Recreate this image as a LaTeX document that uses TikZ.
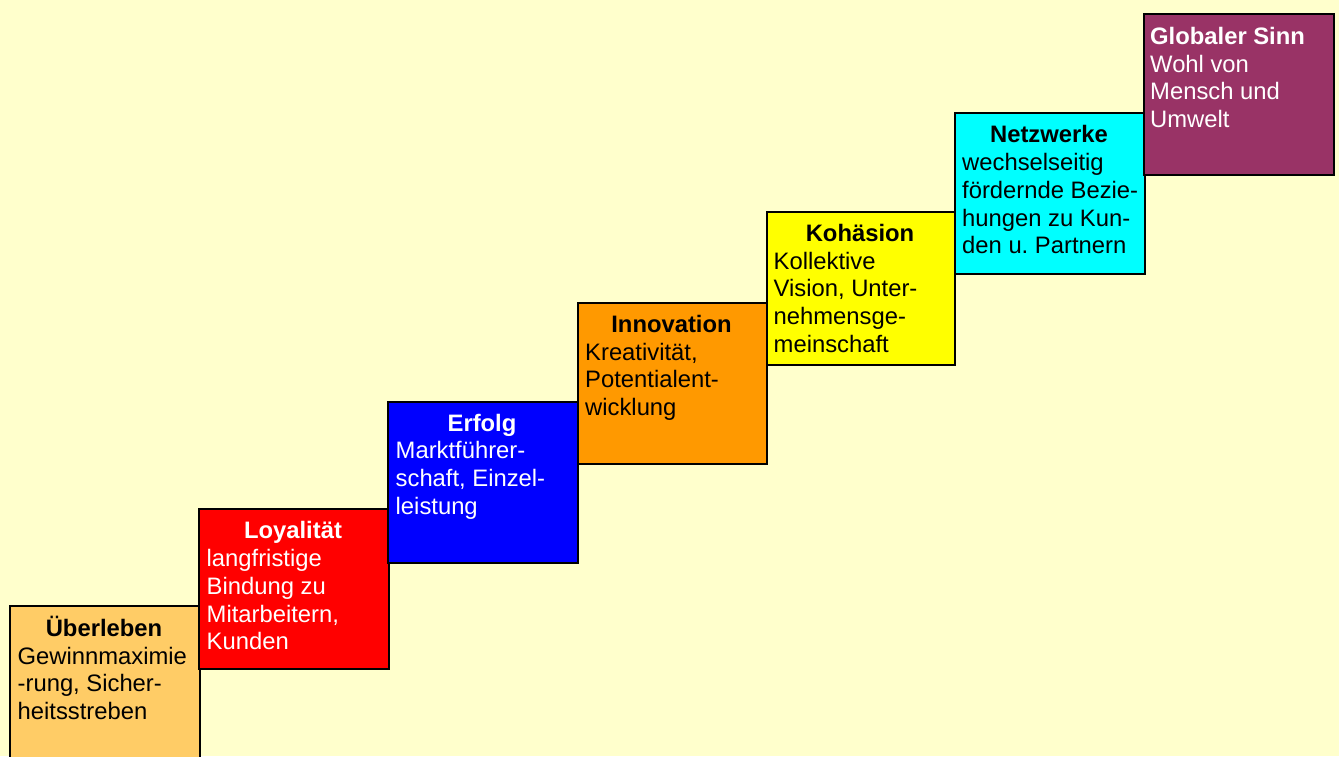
\documentclass[tikz,border=0pt]{standalone}
\usepackage{fontspec}
\setmainfont{Liberation Sans}
\frenchspacing
\definecolor{bg}{HTML}{FFFFCC}
\definecolor{cA}{HTML}{FFCC66}
\definecolor{cB}{HTML}{FF0000}
\definecolor{cC}{HTML}{0000FF}
\definecolor{cD}{HTML}{FF9900}
\definecolor{cE}{HTML}{FFFF00}
\definecolor{cF}{HTML}{00FFFF}
\definecolor{cG}{HTML}{993366}
\begin{document}
\begin{tikzpicture}[x=1pt,y=-1pt,
  stepbox/.style={draw=black, line width=1.5pt, anchor=north west, inner sep=0pt, minimum width=190pt},
  titletext/.style={anchor=base, inner sep=0pt, font=\fontsize{23.8}{27.7}\selectfont\bfseries},
  bodytext/.style={anchor=north west, inner sep=0pt, align=left, font=\fontsize{23.8}{27.7}\selectfont}]
\useasboundingbox (0,0) rectangle (1339,756);
\fill[bg] (0,0) rectangle (1339,756);
\clip (0,0) rectangle (1339,756);
% boxes
\node[stepbox, fill=cA, minimum height=170pt] (b1) at (9,605) {};
\node[stepbox, fill=cB, minimum width=190pt, minimum height=160pt] (b2) at (198,508) {};
\node[stepbox, fill=cC, minimum width=190pt, minimum height=161pt] (b3) at (387,401) {};
\node[stepbox, fill=cD, minimum width=189pt, minimum height=161pt] (b4) at (577,302) {};
\node[stepbox, fill=cE, minimum width=188pt, minimum height=153pt] (b5) at (766,211) {};
\node[stepbox, fill=cF, minimum width=190pt, minimum height=161pt] (b6) at (954,112) {};
\node[stepbox, fill=cG, minimum width=190pt, minimum height=161pt] (b7) at (1143,13) {};
% titles
\node[titletext, text=black] (t1) at (104,636) {Überleben};
\node[titletext, text=white] (t2) at (293,538) {Loyalität};
\node[titletext, text=white] (t3) at (482,431.5) {Erfolg};
\node[titletext, text=black] (t4) at (671.5,332.5) {Innovation};
\node[titletext, text=black] (t5) at (860,241.5) {Kohäsion};
\node[titletext, text=black] (t6) at (1049,142.5) {Netzwerke};
\node[titletext, text=white, anchor=base west] (t7) at (1150,44) {Globaler Sinn};
% bodies (first baseline = top + 20)
\node[bodytext, text=black] (d1) at (17.5,644) {\rule{0pt}{20pt}Gewinnmaximie\\-rung, Sicher-\\heitsstreben};
\node[bodytext, text=white] (d2) at (206.5,546.5) {\rule{0pt}{20pt}langfristige\\Bindung zu\\Mitarbeitern,\\Kunden};
\node[bodytext, text=white] (d3) at (395.5,438.5) {\rule{0pt}{20pt}Marktführer-\\schaft, Einzel-\\leistung};
\node[bodytext, text=black] (d4) at (585,340) {\rule{0pt}{20pt}Kreativität,\\Potentialent-\\wicklung};
\node[bodytext, text=black] (d5) at (773.5,249) {\rule{0pt}{20pt}Kollektive\\Vision, Unter-\\nehmensge-\\meinschaft};
\node[bodytext, text=black] (d6) at (962,150.5) {\rule{0pt}{20pt}wechselseitig\\fördernde Bezie-\\hungen zu Kun-\\den u. Partnern};
\node[bodytext, text=white] (d7) at (1150,52) {\rule{0pt}{20pt}Wohl von\\Mensch und\\Umwelt};
\end{tikzpicture}
\end{document}
